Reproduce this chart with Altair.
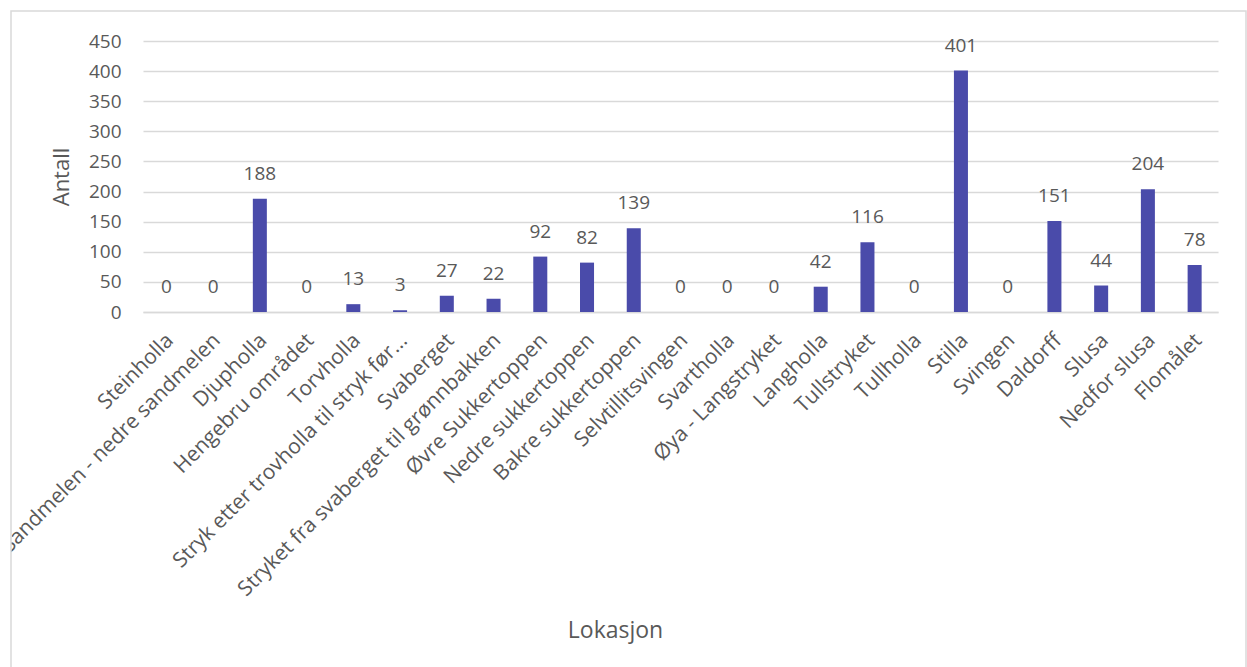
import altair as alt
import pandas as pd

# Counts per location along the river
lokasjoner = [
    "Steinholla",
    "Sandmelen - nedre sandmelen",
    "Djupholla",
    "Hengebru området",
    "Torvholla",
    "Stryk etter trovholla til stryk før...",
    "Svaberget",
    "Stryket fra svaberget til grønnbakken",
    "Øvre Sukkertoppen",
    "Nedre sukkertoppen",
    "Bakre sukkertoppen",
    "Selvtillitsvingen",
    "Svartholla",
    "Øya - Langstryket",
    "Langholla",
    "Tullstryket",
    "Tullholla",
    "Stilla",
    "Svingen",
    "Daldorff",
    "Slusa",
    "Nedfor slusa",
    "Flomålet",
]
antall = [0, 0, 188, 0, 13, 3, 27, 22, 92, 82, 139, 0, 0, 0, 42, 116, 0, 401, 0, 151, 44, 204, 78]
y_ticks = [0, 50, 100, 150, 200, 250, 300, 350, 400, 450]

df = pd.DataFrame({"Lokasjon": lokasjoner, "Antall": antall})

FONT = "Open Sans"
GREY = "#595959"
LINE = "#d9d9d9"
BAR = "#4a4baa"

W, H = 1075, 271
PAD_L, PAD_T = 143, 41

x_enc = alt.X(
    "Lokasjon:N",
    sort=lokasjoner,
    scale=alt.Scale(paddingInner=0.7, paddingOuter=0.35),
    axis=alt.Axis(
        title="Lokasjon",
        titleFont=FONT,
        titleFontSize=23,
        titleFontWeight="normal",
        titleColor=GREY,
        titleX=472,
        titleY=318,
        titleBaseline="middle",
        labelAngle=-45,
        labelAlign="right",
        labelBaseline="middle",
        labelPadding=25,
        labelOffset=4,
        labelFont=FONT,
        labelFontSize=21,
        labelColor=GREY,
        labelOverlap=False,
        labelLimit=0,
        ticks=False,
        domainColor=LINE,
        domainWidth=1.5,
        grid=False,
        zindex=0,
    ),
)
y_enc = alt.Y(
    "Antall:Q",
    scale=alt.Scale(domain=[0, 450], nice=False),
    axis=alt.Axis(
        title="Antall",
        titleFont=FONT,
        titleFontSize=22,
        titleFontWeight="normal",
        titleColor=GREY,
        titlePadding=15,
        values=y_ticks,
        labelFont=FONT,
        labelFontSize=19,
        labelColor=GREY,
        labelPadding=22,
        ticks=False,
        domain=False,
        gridColor=LINE,
        gridWidth=1.5,
    ),
)

bars = alt.Chart(df).mark_bar(color=BAR).encode(x=x_enc, y=y_enc)

values = alt.Chart(df).mark_text(
    font=FONT, fontSize=19, color=GREY, baseline="alphabetic", dy=-19
).encode(x=x_enc, y=y_enc, text="Antall:Q")

frame_df = pd.DataFrame({"k": [0]})

# white strip hiding label overflow to the left of the chart frame
mask = alt.Chart(frame_df).mark_rect(fill="white").encode(
    x=alt.value(-PAD_L), x2=alt.value(11 - PAD_L),
    y=alt.value(H), y2=alt.value(667 - PAD_T),
)

frame = alt.Chart(frame_df).mark_rect(
    fill="white", fillOpacity=0, stroke=LINE, strokeWidth=1.5
).encode(
    x=alt.value(11 - PAD_L), x2=alt.value(1246 - PAD_L),
    y=alt.value(11 - PAD_T), y2=alt.value(700 - PAD_T),
)

chart = (
    alt.layer(bars, values, mask, frame)
    .properties(
        width=W,
        height=H,
        autosize=alt.AutoSizeParams(type="none"),
        padding={"left": PAD_L, "top": PAD_T, "right": 1247 - PAD_L - W, "bottom": 667 - PAD_T - H},
        background="white",
    )
    .configure_view(stroke=None)
)

chart.save("out.html", embed_options={"renderer": "svg", "actions": False})
